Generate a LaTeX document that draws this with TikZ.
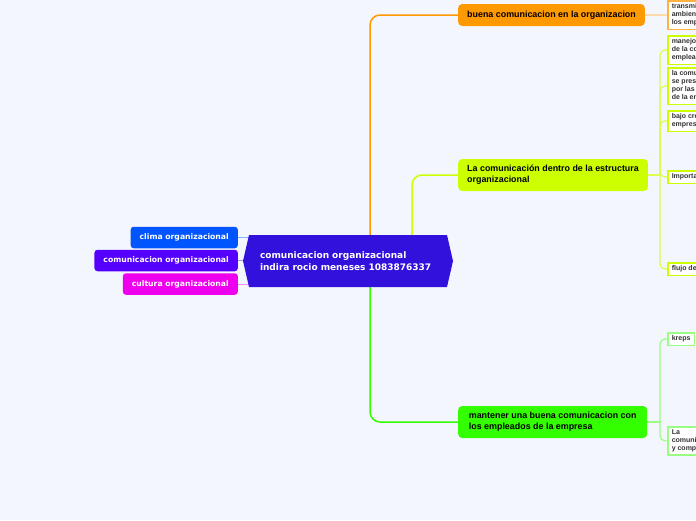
\documentclass[tikz,border=0pt]{standalone}
\usepackage{fontspec}
\setmainfont{Liberation Sans}
\newfontfamily\verdana{DejaVu Sans}
\usetikzlibrary{shapes.symbols,backgrounds}
\definecolor{fondo}{HTML}{F4F6FE}
\definecolor{colcentro}{HTML}{3311DD}
\definecolor{colclima}{HTML}{0055FF}
\definecolor{colcomu}{HTML}{5500FF}
\definecolor{colcultura}{HTML}{EE00EE}
\definecolor{colnaranja}{HTML}{FF9900}
\definecolor{colamarillo}{HTML}{CCFF00}
\definecolor{colverde}{HTML}{33FF00}
\begin{document}
\begin{tikzpicture}[x=1pt,y=-1pt,
  rama/.style={fill=#1, rounded corners=4pt, anchor=west, align=left, inner xsep=9pt, text=black, font=\fontsize{8.9}{11}\selectfont\bfseries},
  lado/.style={fill=#1, rounded corners=3pt, anchor=east, text=white, inner xsep=9pt, minimum height=21.5pt, font=\verdana\fontsize{7.7}{9}\selectfont\bfseries},
  hoja/.style={draw=#1, line width=1.5pt, fill=white, anchor=north west, align=left, inner xsep=4pt, inner ysep=3pt, text=black!80, font=\fontsize{7}{8}\selectfont\bfseries},
]
\useasboundingbox (0,0) rectangle (696,520);

\node[signal, signal to=west and east, signal pointer angle=154, fill=colcentro, minimum width=210pt, minimum height=52pt, text width=176pt, align=left, text=white, font=\verdana\fontsize{9}{12}\selectfont\bfseries] (centro) at (348,261) {comunicacion organizacional\\indira rocio meneses 1083876337};

\foreach \nombre/\texto/\y in {clima/clima organizacional/237.5, comu/comunicacion organizacional/260.5, cultura/cultura organizacional/284}
    {
        \node[lado=col\nombre] (\nombre) at (238,\y) {\texto};
    }

\node[rama=colnaranja, minimum width=186pt, minimum height=22pt] (buena) at (458,15) {buena comunicacion en la organizacion};
\node[rama=colamarillo, minimum width=189pt, minimum height=32pt] (estructura) at (458,175) {La comunicación dentro de la estructura\\organizacional};
\node[rama=colverde, minimum width=189pt, minimum height=32pt] (mantener) at (458,422) {mantener una buena comunicacion con\\los empleados de la empresa};

\node[hoja=colnaranja!75] (transmit) at (667,0) {transmitir un buen\\ambiente laboral a\\los empleados};

\foreach \nombre/\texto/\y in {manejo/{manejo adecuado\\de la comunicacion con\\empleados}/35, presenta/{la comunicacion\\se presenta\\por las areas\\de la empresa}/67, bajo/{bajo crecimiento\\empresarial}/110, importa/{Importancia}/170, flujo/{flujo de informacion}/262}
    {
        \node[hoja=colamarillo] (\nombre) at (667,\y) {\texto};
    }

\foreach \nombre/\texto/\y in {kreps/{kreps}/332, lacomu/{La\\comunicacion interna\\y comportamiento}/426}
    {
        \node[hoja=colverde!50!white] (\nombre) at (667,\y) {\texto};
    }

\coordinate (ramaA) at (660,175);
\coordinate (ramaB) at (660,422);

\begin{scope}[on background layer]
\fill[fondo] (0,0) rectangle (696,520);
\foreach \nombre in {clima,comu,cultura}
    {
        \draw[col\nombre!45!white, line width=1pt] (\nombre.east) -- (\nombre.east -| centro.center);
    }
\draw[colnaranja, line width=1.5pt, rounded corners=10pt] ([xshift=22pt]centro.north) |- (buena.west);
\draw[colamarillo, line width=1.5pt, rounded corners=10pt] ([xshift=64pt]centro.north) |- (estructura.west);
\draw[colverde, line width=1.5pt, rounded corners=10pt] ([xshift=22pt]centro.south) |- (mantener.west);
\draw[colnaranja!50!white, line width=1.2pt] (buena.east) -- (transmit.west);
\draw[colamarillo!70!white, line width=1.2pt] (estructura.east) -- (ramaA);
\foreach \nombre in {manejo,presenta,bajo,importa,flujo}
    {
        \draw[colamarillo!70!white, line width=1.2pt, rounded corners=5pt] (ramaA) |- (\nombre.west);
    }
\draw[colverde!50!white, line width=1.2pt] (mantener.east) -- (ramaB);
\foreach \nombre in {kreps,lacomu}
    {
        \draw[colverde!50!white, line width=1.2pt, rounded corners=5pt] (ramaB) |- (\nombre.west);
    }
\end{scope}
\end{tikzpicture}
\end{document}
